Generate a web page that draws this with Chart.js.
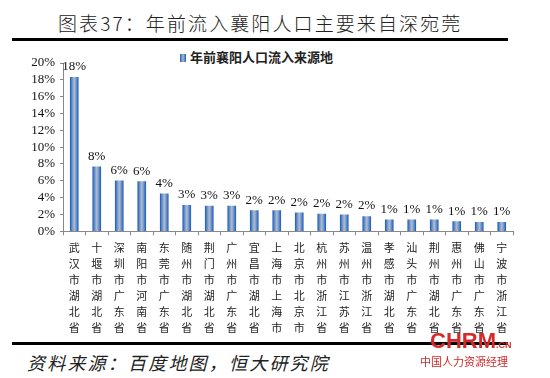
<!DOCTYPE html>
<html>
<head>
<meta charset="utf-8">
<script src="https://cdn.jsdelivr.net/npm/chart.js@4.4.1/dist/chart.umd.min.js"></script>
<style>
  body{ margin:0; width:550px; height:378px; background:#fff; position:relative; overflow:hidden; font-family:"Noto Sans CJK SC", sans-serif }
  .title{ position:absolute; left:58px; top:9px; font-size:19px; letter-spacing:2.1px; color:#222; line-height:28px; font-weight:300 }
  .rule{ position:absolute; left:12px; width:496px; height:3px; background:#000 }
  .legend{ position:absolute; left:180px; top:48px; font-size:13px; font-weight:bold; color:#222; line-height:18px }
  .legend i{ display:inline-block; width:6px; height:8px; margin-right:4px; vertical-align:0px;
    background:linear-gradient(90deg,#1e5eb4,#a9bad0 50%,#1e5eb4) }
  .source{ position:absolute; left:27px; top:350px; font-size:18px; font-style:italic; color:#222; letter-spacing:2.2px; line-height:24px }
  .wm{ position:absolute; left:430px; top:330px; color:#d42a2a; font-weight:bold; font-size:22px; line-height:22px; font-family:Arial, sans-serif }
  .wm2{ position:absolute; left:420px; top:354px; color:#d42a2a; font-size:11px; line-height:14px }
  #wrap{ position:absolute; left:0; top:45px; width:530px; height:296px }
</style>
</head>
<body>
<div class="title">图表37：年前流入襄阳人口主要来自深宛莞</div>
<div class="rule" style="top:38px"></div>
<div class="legend"><i></i>年前襄阳人口流入来源地</div>
<div id="wrap"><canvas id="c"></canvas></div>
<div class="rule" style="top:342px"></div>
<div class="source">资料来源：百度地图，恒大研究院</div>
<div class="wm">CHRM<span style="font-size:9px">.CN</span></div>
<div class="wm2">中国人力资源经理</div>
<script>
const cities = ['武汉市湖北省','十堰市湖北省','深圳市广东省','南阳市河南省','东莞市广东省','随州市湖北省','荆门市湖北省',
  '广州市广东省','宜昌市湖北省','上海市上海市','北京市北京市','杭州市浙江省','苏州市江苏省','温州市浙江省',
  '孝感市湖北省','汕头市广东省','荆州市湖北省','惠州市广东省','佛山市广东省','宁波市浙江省']
const shares = [18.3,7.65,6.0,5.9,4.45,3.1,3.0,3.0,2.45,2.45,2.2,2.05,1.95,1.75,1.35,1.35,1.35,1.15,1.08,1.08]

const valueLabels = {
  id:'valueLabels',
  afterDatasetsDraw(chart){
    const ctx = chart.ctx
    const meta = chart.getDatasetMeta(0)
    ctx.save()
    ctx.font = '13px "Liberation Serif", serif'
    ctx.fillStyle = '#111'
    ctx.textAlign = 'center'
    ctx.textBaseline = 'bottom'
    meta.data.forEach((bar,i)=>{
      ctx.fillText(Math.round(shares[i])+'%', bar.x, bar.y-4)
    })
    ctx.restore()
  }
}

function barFill(c){
  const chart = c.chart
  const xs = chart.scales && chart.scales.x
  if(!xs || c.dataIndex==null) return '#6f8fbf'
  const x = xs.getPixelForValue(c.dataIndex)
  if(!isFinite(x)) return '#6f8fbf'
  const g = chart.ctx.createLinearGradient(x-4, 0, x+4, 0)
  g.addColorStop(0, '#1f62bd')
  g.addColorStop(0.3, '#7f9ccb')
  g.addColorStop(0.5, '#aebdd2')
  g.addColorStop(0.7, '#7f9ccb')
  g.addColorStop(1, '#1f62bd')
  return g
}

new Chart(document.getElementById('c'), {
  type:'bar',
  data:{
    labels: cities.map(s => s.split('')),
    datasets:[{ label:'年前襄阳人口流入来源地', data: shares, backgroundColor: barFill, barThickness: 8, borderWidth: 0 }]
  },
  options:{
    responsive:true,
    maintainAspectRatio:false,
    animation:false,
    layout:{ padding:{ top:18, right:17, left:0, bottom:0 } },
    plugins:{ legend:{ display:false }, tooltip:{ enabled:false } },
    scales:{
      x:{
        grid:{ drawOnChartArea:false, drawTicks:true, tickLength:4, color:'#888', offset:true },
        border:{ color:'#888' },
        ticks:{ autoSkip:false, maxRotation:0, padding:5, color:'#222',
          font:{ family:'"Noto Sans CJK SC", sans-serif', size:11, lineHeight:1.45 } }
      },
      y:{
        min:0, max:20,
        afterFit(s){ s.width = 63 },
        grid:{ drawOnChartArea:false, drawTicks:true, tickLength:3, color:'#888' },
        border:{ color:'#888' },
        ticks:{ stepSize:2, autoSkip:false, padding:5, color:'#111', callback: v => v+'%',
          font:{ family:'"Liberation Serif", serif', size:13 } }
      }
    }
  },
  plugins:[valueLabels]
})
</script>
</body>
</html>
